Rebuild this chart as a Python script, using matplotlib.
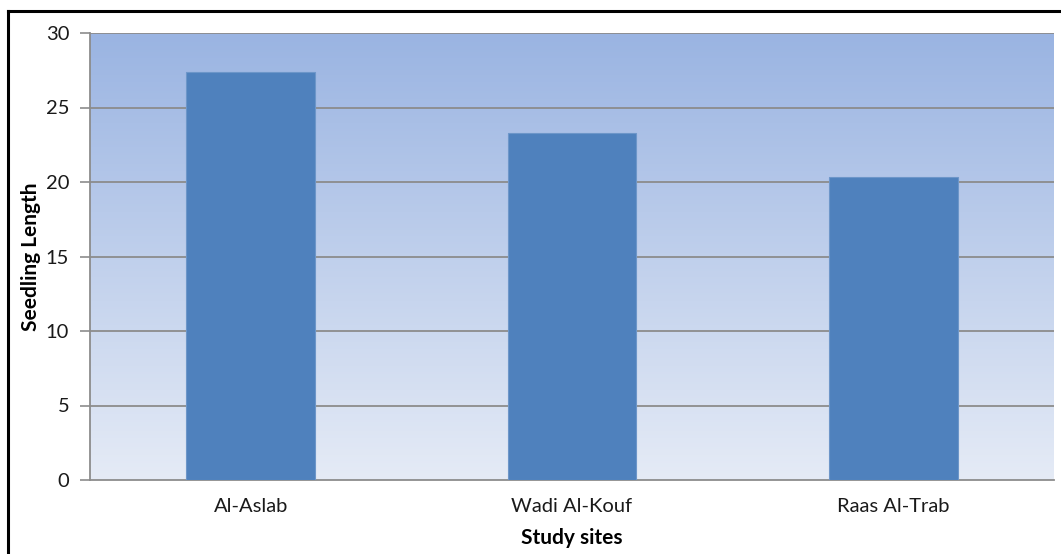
import matplotlib
matplotlib.use("Agg")
import matplotlib.pyplot as plt
import numpy as np
from matplotlib.colors import LinearSegmentedColormap
from matplotlib.lines import Line2D

# data
sites = ["Al-Aslab", "Wadi Al-Kouf", "Raas Al-Trab"]
seedling_length = [27.35, 23.3, 20.35]
y_ticks = [0, 5, 10, 15, 20, 25, 30]

plt.rcParams['font.family'] = ['Lato', 'DejaVu Sans']

fig = plt.figure(figsize=(10.61, 5.54), dpi=100)
ax = fig.add_axes([90/1061, 1 - 480/554, (1054 - 90)/1061, (480 - 33)/554])

# gradient background of the plot area
grad = LinearSegmentedColormap.from_list("bg", ["#e5ebf6", "#9ab4e2"])
ax.imshow(np.linspace(0, 1, 256).reshape(-1, 1), cmap=grad, aspect='auto',
          extent=[0, 1, 0, 1], transform=ax.transAxes, origin='lower', zorder=0)

x = np.arange(len(sites))
ax.bar(x, seedling_length, width=0.4, color='#4f81bd', edgecolor='#6d96c9',
       linewidth=0.8, zorder=3)

ax.set_xlim(-0.5, len(sites) - 0.5)
ax.set_ylim(0, 30)
ax.set_yticks(y_ticks)
ax.set_xticks(x)
ax.set_xticklabels(sites)

for v in y_ticks[1:]:
    ax.axhline(v, color='#8c8c8c', linewidth=1.3, zorder=2)

ax.tick_params(axis='y', length=7, width=1.2, color='#8c8c8c', pad=8,
               labelsize=14.5, labelcolor='#1a1a1a')
ax.tick_params(axis='x', length=0, pad=13, labelsize=14.5, labelcolor='#1a1a1a')

for side in ['top', 'right']:
    ax.spines[side].set_visible(False)
for side in ['left', 'bottom']:
    ax.spines[side].set_color('#8c8c8c')
    ax.spines[side].set_linewidth(1.3)

ax.set_ylabel("Seedling Length", fontsize=15, fontweight='bold', labelpad=3)
ax.set_xlabel("Study sites", fontsize=15, fontweight='bold', labelpad=9)

# outer border (only left and top visible in the crop)
fig.add_artist(Line2D([8/1061, 8/1061], [0, 1 - 11/554], color='black',
                      linewidth=2.2, transform=fig.transFigure))
fig.add_artist(Line2D([8/1061, 1], [1 - 11/554, 1 - 11/554], color='black',
                      linewidth=2.2, transform=fig.transFigure))

fig.savefig("out.png", dpi=100)
